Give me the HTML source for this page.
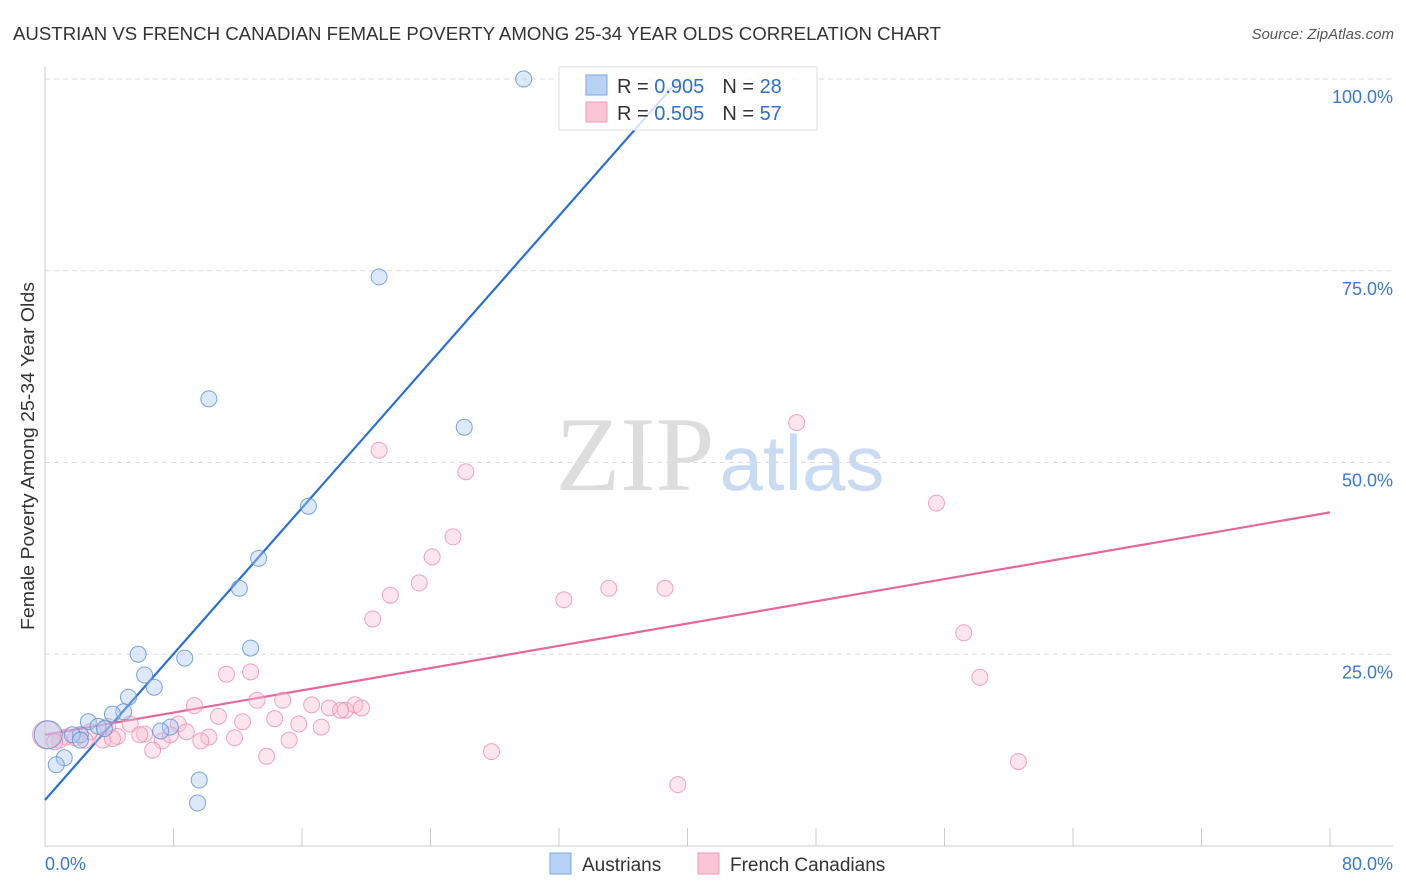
<!DOCTYPE html>
<html><head><meta charset="utf-8"><style>
body{margin:0;background:#fff;font-family:"Liberation Sans",sans-serif}
svg{display:block}
</style></head><body>
<svg id="c" width="1406" height="892" font-family="Liberation Sans, sans-serif">
<text x="13" y="40" font-size="18" fill="#333" textLength="928" lengthAdjust="spacingAndGlyphs">AUSTRIAN VS FRENCH CANADIAN FEMALE POVERTY AMONG 25-34 YEAR OLDS CORRELATION CHART</text>
<text x="1394" y="39" font-size="15" fill="#555" font-style="italic" text-anchor="end">Source: ZipAtlas.com</text>
<text transform="translate(34,456) rotate(-90)" font-size="18" fill="#333" text-anchor="middle" textLength="348" lengthAdjust="spacingAndGlyphs">Female Poverty Among 25-34 Year Olds</text>
<g><text x="635" y="490" font-size="106" font-family="Liberation Serif, serif" fill="#ddd" text-anchor="middle">ZIP</text><text x="802" y="490" font-size="78" fill="#c9daf3" text-anchor="middle">atlas</text></g>
<g id="grid"></g><g id="axes"></g><g id="lines"></g><g id="pts"></g>
<g>
<rect x="559" y="67" width="258" height="63" fill="#fff" fill-opacity="0.8" stroke="#ddd"/>
<rect x="586" y="75" width="21" height="20" fill="#b8d2f4" stroke="#7aa6e3"/>
<rect x="586" y="102" width="21" height="20" fill="#fac6d5" stroke="#ee9ab5"/>
<text x="617" y="93" font-size="20" fill="#333">R = <tspan fill="#2f6fd0">0.905</tspan><tspan dx="18">N = </tspan><tspan fill="#2f6fd0">28</tspan></text>
<text x="617" y="120" font-size="20" fill="#333">R = <tspan fill="#2f6fd0">0.505</tspan><tspan dx="18">N = </tspan><tspan fill="#2f6fd0">57</tspan></text>
</g>
<g>
<rect x="550" y="853" width="21" height="21" fill="#b8d2f4" stroke="#7aa6e3"/>
<text x="582" y="871" font-size="19" fill="#333">Austrians</text>
<rect x="698" y="853" width="21" height="21" fill="#fac6d5" stroke="#ee9ab5"/>
<text x="730" y="871" font-size="19" fill="#333">French Canadians</text>
</g>
</svg>
<script>
const xTicks=[0,8,16,24,32,40,48,56,64,72,80];
const yTicks=[25,50,75,100];
const yTickLabels=["25.0%","50.0%","75.0%","100.0%"];
const xEndLabels=["0.0%","80.0%"];
const ausX=[29.8,20.8,10.2,26.1,16.4,13.3,12.1,12.8,5.8,8.7,6.2,6.8,5.2,4.9,4.2,2.7,3.3,3.7,7.8,7.2,2.2,1.7,2.2,1.2,0.7,9.6,9.5,0.2];
const ausY=[100,74.2,58.3,54.6,44.3,37.5,33.6,25.8,25.0,24.5,22.3,20.7,19.4,17.5,17.2,16.2,15.6,15.3,15.5,15.0,14.5,14.5,13.8,11.5,10.6,8.6,5.6,14.5];
const frX=[46.8,20.8,26.2,55.5,25.4,24.1,23.3,21.5,32.3,35.1,38.6,20.4,57.2,11.3,12.8,58.2,9.3,13.2,14.8,16.6,17.7,18.7,19.3,19.7,18.4,10.8,12.3,14.3,15.8,8.3,5.3,3.9,2.8,17.2,8.8,6.2,10.2,4.5,1.3,11.8,9.7,3.6,7.3,15.2,0.9,6.7,13.8,27.8,60.6,39.4,0.1,0.6,1.9,5.9,7.8,4.2,2.5];
const frY=[55.2,51.6,48.8,44.7,40.3,37.7,34.3,32.7,32.1,33.6,33.6,29.6,27.8,22.4,22.7,22.0,18.3,19.0,19.0,18.4,18.0,17.7,18.4,18.0,17.7,16.9,16.2,16.6,15.9,15.9,15.9,15.6,14.9,15.5,14.9,14.6,14.2,14.3,14.2,14.1,13.7,13.8,13.7,13.8,13.8,12.5,11.7,12.3,11.0,8.0,14.5,13.6,14.1,14.5,14.5,14.0,13.8];
const ausTrend=[6.0,2.38];   // intercept, slope
const frTrend=[14.5,0.3625];
const X=v=>45+v*16.0625, Y=v=>846-v*7.67;
const NS="http://www.w3.org/2000/svg";
function mk(p,t,a){const e=document.createElementNS(NS,t);for(const k in a)e.setAttribute(k,a[k]);p.appendChild(e);return e;}
const grid=document.getElementById('grid'),axes=document.getElementById('axes'),lines=document.getElementById('lines'),pts=document.getElementById('pts');
yTicks.forEach((v,i)=>{
 const l=mk(grid,'line',{x1:45,x2:1393,y1:Y(v),y2:Y(v),stroke:'#ddd','stroke-dasharray':'5,4'});
 
 
 const t=mk(axes,'text',{x:1393,y:Y(v)+24,'font-size':18,fill:'#3a78d4','text-anchor':'end'});t.textContent=yTickLabels[i];
 
 
});
const ax=mk(axes,'line',{x1:45,x2:1393,y1:846,y2:846,stroke:'#ccc'});


const ay=mk(axes,'line',{x1:45,x2:45,y1:67,y2:846,stroke:'#ccc'});


xTicks.forEach(v=>{const t=mk(axes,'line',{x1:X(v),x2:X(v),y1:828,y2:846,stroke:'#ccc'});
 
 });
[[0,'start',45],[1,'end',1393]].forEach(([i,a,x])=>{const t=mk(axes,'text',{x:x,y:870,'font-size':18,fill:'#3a78d4','text-anchor':a});t.textContent=xEndLabels[i];
 
 });
function dots(xs,ys,fill,stroke,name){xs.forEach((x,i)=>{const big=(x<0.5&&Math.abs(ys[i]-14.5)<0.1);
 const c=mk(pts,'circle',{cx:X(x),cy:Y(ys[i]),r:big?14:8,fill:fill,'fill-opacity':0.4,stroke:stroke,'stroke-width':1,'stroke-opacity':0.8});
 
 });}
dots(frX,frY,'#f8bfd1','#eb8fae','french-canadian-point');
dots(ausX,ausY,'#a9c8f0','#5b8fd6','austrian-point');
const bx2=(100-ausTrend[0])/ausTrend[1];
const bl=mk(lines,'line',{x1:X(0),y1:Y(ausTrend[0]),x2:X(bx2),y2:Y(100),stroke:'#2a6fd6','stroke-width':2.2});


const pl=mk(lines,'line',{x1:X(0),y1:Y(frTrend[0]),x2:X(80),y2:Y(frTrend[0]+80*frTrend[1]),stroke:'#e4689a','stroke-width':2.2});


</script>
</body></html>
